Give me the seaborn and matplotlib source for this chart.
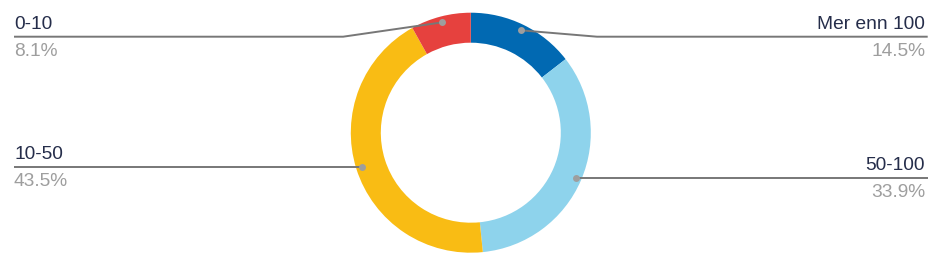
import numpy as np
import matplotlib
matplotlib.use("Agg")
import matplotlib.pyplot as plt
import seaborn as sns

# ---- data ----
categories = ["Mer enn 100", "50-100", "10-50", "0-10"]
shares = [14.5, 33.9, 43.5, 8.1]
pct_labels = ["14.5%", "33.9%", "43.5%", "8.1%"]
colors = ["#0169b2", "#8ed3ec", "#f9bc14", "#e6413e"]

sns.set_theme(style="white")
plt.rcParams["font.family"] = ["Liberation Sans", "DejaVu Sans"]

W, H = 940, 267
CX, CY = 470.8, 132.7     # centre in pixels (from top)
R = 120.0                 # outer radius in pixels

fig = plt.figure(figsize=(W / 100, H / 100), dpi=100)
ax = fig.add_axes([0, 0, 1, 1])

wedges, _ = ax.pie(shares, colors=colors, startangle=90, counterclock=False,
                   radius=1.0, center=(0, 0),
                   wedgeprops=dict(width=0.25, linewidth=0))
ax.set_aspect("auto")
ax.set_xlim(-CX / R, (W - CX) / R)
ax.set_ylim(-(H - CY) / R, CY / R)
ax.axis("off")

def px(x, y):
    return (x - CX) / R, (CY - y) / R

line_col = "#777777"
dot_col = "#9e9e9e"
lab_col = "#252d4a"
pct_col = "#9e9e9e"
min_line_y = 36.7
left_x, right_x = 14, 927.7
right_text_x = 925.0
fs = 13.8

total = sum(shares)
cum = 0.0
for cat, s, pl in zip(categories, shares, pct_labels):
    mid = (cum + s / 2) / total * 2 * np.pi
    cum += s
    dx = CX + 0.95 * R * np.sin(mid)
    dy = CY - 0.95 * R * np.cos(mid)
    ly = max(dy, min_line_y)
    right = np.sin(mid) > 0
    if right:
        elbow_x = dx + 76 if ly != dy else dx
        xs = [dx, elbow_x, right_x]
    else:
        elbow_x = dx - 99 if ly != dy else dx
        xs = [dx, elbow_x, left_x]
    ys = [dy, ly, ly]
    pts = [px(x, y) for x, y in zip(xs, ys)]
    ax.plot([p[0] for p in pts], [p[1] for p in pts], color=line_col, lw=1.4,
            solid_capstyle="butt", zorder=3)
    ax.plot(*px(dx, dy), "o", color=dot_col, ms=5, mec="none", zorder=4)
    if right:
        tx, ha = right_text_x, "right"
    else:
        tx, ha = left_x, "left"
    ax.text(*px(tx, ly - 7.7), cat, ha=ha, va="baseline", fontsize=fs, color=lab_col)
    ax.text(*px(tx, ly + 19.3), pl, ha=ha, va="baseline", fontsize=fs, color=pct_col)

fig.savefig("out.png", dpi=100)
